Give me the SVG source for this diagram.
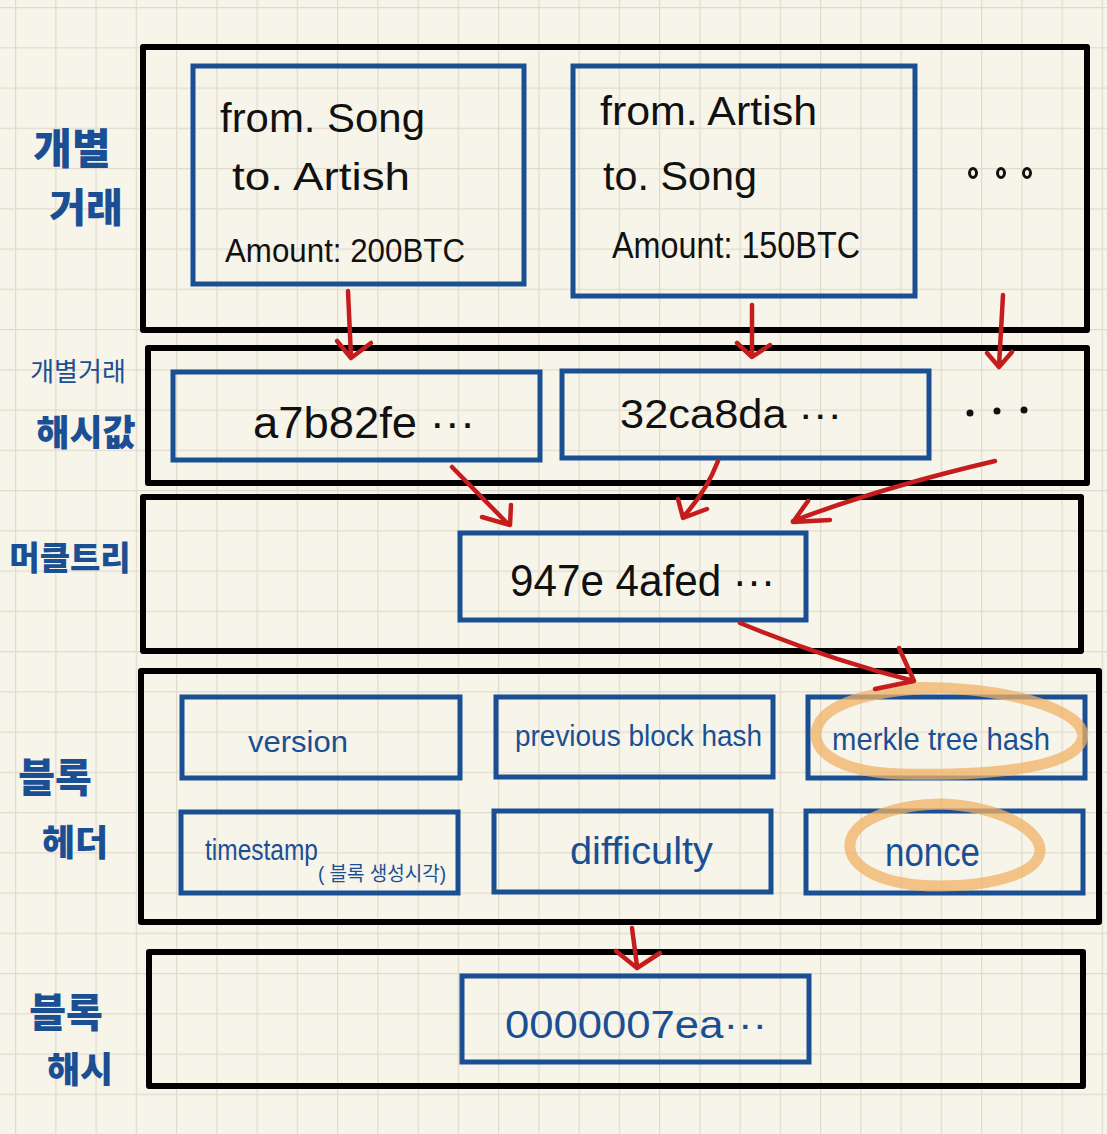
<svg xmlns="http://www.w3.org/2000/svg" width="1107" height="1134" viewBox="0 0 1107 1134">
<defs>
<pattern id="grid" x="15" y="7" width="40.25" height="40.25" patternUnits="userSpaceOnUse">
<path d="M0 0H40.25M0 0V40.25" fill="none" stroke="#e0dbcd" stroke-width="2.5"/>
</pattern>
<style>
.frame{fill:none;stroke:#000;stroke-width:6;stroke-linejoin:round}
.box{fill:none;stroke:#1b4f94;stroke-width:5}
.arrow{fill:none;stroke:#c51d1d;stroke-width:4.5;stroke-linecap:round;stroke-linejoin:round}
.hl{fill:none;stroke:#f0b264;stroke-width:11;stroke-opacity:0.75}
.lbl{font-family:"Noto Sans CJK KR","Noto Sans",sans-serif;font-weight:900;fill:#1b4f94}
.hand{font-family:"Liberation Sans","Noto Sans CJK KR",sans-serif;fill:#111}
.blue{font-family:"Liberation Sans","Noto Sans CJK KR",sans-serif;fill:#1b4f94}
.dot{fill:none;stroke:#111;stroke-width:3}
</style>
</defs>
<rect width="1107" height="1134" fill="#f7f4e9"/>
<rect width="1107" height="1134" fill="url(#grid)"/>

<g id="labels">
<text class="lbl" x="72" y="164" font-size="42" text-anchor="middle">개별</text>
<text class="lbl" x="86" y="222" font-size="40" text-anchor="middle">거래</text>
<text class="lbl" x="78" y="381" font-size="26" style="font-weight:400" text-anchor="middle">개별거래</text>
<text class="lbl" x="86" y="446" font-size="36" text-anchor="middle">해시값</text>
<text class="lbl" x="70" y="570" font-size="33" text-anchor="middle">머클트리</text>
<text class="lbl" x="55" y="792" font-size="40" text-anchor="middle">블록</text>
<text class="lbl" x="75" y="856" font-size="36" text-anchor="middle">헤더</text>
<text class="lbl" x="66" y="1027" font-size="40" text-anchor="middle">블록</text>
<text class="lbl" x="80" y="1083" font-size="36" text-anchor="middle">해시</text>
</g>

<g id="frames">
<rect class="frame" x="143" y="47" width="944" height="283"/>
<rect class="frame" x="148" y="348" width="939" height="135"/>
<rect class="frame" x="143" y="497" width="938" height="154"/>
<rect class="frame" x="141" y="671" width="958" height="251"/>
<rect class="frame" x="149" y="952" width="934" height="134"/>
</g>

<g id="tx1">
<rect class="box" x="193" y="66" width="331" height="218"/>
<text class="hand" x="220" y="132" font-size="40" textLength="205" lengthAdjust="spacingAndGlyphs">from. Song</text>
<text class="hand" x="232" y="190" font-size="38" textLength="178" lengthAdjust="spacingAndGlyphs">to. Artish</text>
<text class="hand" x="225" y="262" font-size="34" textLength="240" lengthAdjust="spacingAndGlyphs">Amount: 200BTC</text>
</g>
<g id="tx2">
<rect class="box" x="573" y="66" width="342" height="230"/>
<text class="hand" x="600" y="125" font-size="40" textLength="217" lengthAdjust="spacingAndGlyphs">from. Artish</text>
<text class="hand" x="603" y="190" font-size="40" textLength="154" lengthAdjust="spacingAndGlyphs">to. Song</text>
<text class="hand" x="612" y="258" font-size="36" textLength="248" lengthAdjust="spacingAndGlyphs">Amount: 150BTC</text>
</g>
<g id="tx-more">
<ellipse class="dot" cx="973" cy="173" rx="3.5" ry="4.5"/>
<ellipse class="dot" cx="1001" cy="173" rx="3.5" ry="4.5"/>
<ellipse class="dot" cx="1027" cy="173" rx="3.5" ry="4.5"/>
</g>

<g id="hash1">
<rect class="box" x="173" y="372" width="367" height="88"/>
<text class="hand" x="253" y="438" font-size="44" textLength="222" lengthAdjust="spacingAndGlyphs">a7b82fe ···</text>
</g>
<g id="hash2">
<rect class="box" x="562" y="371" width="367" height="87"/>
<text class="hand" x="620" y="428" font-size="40" textLength="222" lengthAdjust="spacingAndGlyphs">32ca8da ···</text>
</g>
<g id="hash-more">
<circle cx="970" cy="413" r="3.5" fill="#111"/>
<circle cx="997" cy="411" r="3.5" fill="#111"/>
<circle cx="1024" cy="410" r="3.5" fill="#111"/>
</g>

<g id="merkle-root">
<rect class="box" x="460" y="533" width="346" height="87"/>
<text class="hand" x="510" y="596" font-size="44" textLength="265" lengthAdjust="spacingAndGlyphs">947e 4afed ···</text>
</g>

<g id="version">
<rect class="box" x="182" y="697" width="278" height="81"/>
<text class="blue" x="248" y="752" font-size="30" textLength="100" lengthAdjust="spacingAndGlyphs">version</text>
</g>
<g id="prev-hash">
<rect class="box" x="496" y="697" width="277" height="80"/>
<text class="blue" x="515" y="746" font-size="30" textLength="247" lengthAdjust="spacingAndGlyphs">previous block hash</text>
</g>
<g id="merkle-hash">
<rect class="box" x="808" y="697" width="277" height="81"/>
<text class="blue" x="832" y="750" font-size="32" textLength="218" lengthAdjust="spacingAndGlyphs">merkle tree hash</text>
</g>
<g id="timestamp">
<rect class="box" x="181" y="812" width="277" height="81"/>
<text class="blue" x="205" y="860" font-size="30" textLength="113" lengthAdjust="spacingAndGlyphs">timestamp</text>
<text class="blue" x="318" y="881" font-size="20" textLength="128" lengthAdjust="spacingAndGlyphs">( 블록 생성시각)</text>
</g>
<g id="difficulty">
<rect class="box" x="494" y="811" width="277" height="81"/>
<text class="blue" x="570" y="864" font-size="38" textLength="143" lengthAdjust="spacingAndGlyphs">difficulty</text>
</g>
<g id="nonce">
<rect class="box" x="806" y="811" width="277" height="82"/>
<text class="blue" x="885" y="866" font-size="40" textLength="95" lengthAdjust="spacingAndGlyphs">nonce</text>
</g>

<g id="block-hash">
<rect class="box" x="462" y="976" width="347" height="86"/>
<text class="blue" x="505" y="1038" font-size="38" textLength="262" lengthAdjust="spacingAndGlyphs">0000007ea···</text>
</g>

<g id="highlights">
<path class="hl" d="M905 688 C1000 684 1092 710 1082 740 C1072 770 980 776 900 774 C840 772 810 752 817 728 C824 704 870 690 940 688"/>
<path class="hl" d="M940 804 C1000 806 1040 830 1040 850 C1040 874 990 886 940 886 C880 886 848 866 850 844 C852 822 890 804 945 804"/>
</g>

<g id="connectors">
<path class="arrow" d="M348 291 L351 357 M337 341 L351 358 L371 343"/>
<path class="arrow" d="M752 305 L752 356 M737 343 L752 357 L770 345"/>
<path class="arrow" d="M1003 295 L999 366 M987 353 L999 367 L1012 352"/>
<path class="arrow" d="M452 467 L508 524 M482 517 L510 525 L511 505"/>
<path class="arrow" d="M718 461 Q706 492 683 517 M678 499 L683 518 L707 509"/>
<path class="arrow" d="M995 461 Q880 488 793 521 M808 501 L793 522 L830 520"/>
<path class="arrow" d="M740 623 Q830 660 914 681 M899 648 L914 681 L875 689"/>
<path class="arrow" d="M632 928 L637 966 M616 951 L637 968 L660 953"/>
</g>
</svg>
